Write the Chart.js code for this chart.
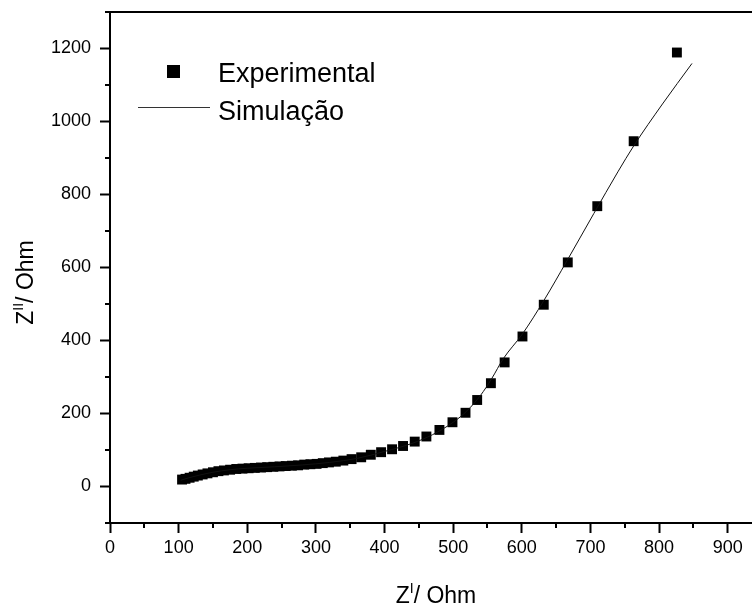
<!DOCTYPE html>
<html>
<head>
<meta charset="utf-8">
<script src="https://cdn.jsdelivr.net/npm/chart.js@4/dist/chart.umd.min.js"></script>
<style>
  html, body { margin: 0; padding: 0; background: #fff; overflow: hidden; }
  #wrap { width: 780px; height: 607px; }
</style>
</head>
<body>
<div id="wrap"><canvas id="c" width="780" height="607"></canvas></div>
<script>
// ---- data ----
const expX = [105,110,116,122,128,135,142,150,158,166,175,184,193,202,211,220,229,238,247,256,265,274,283,292,301,310,319,329,340,352,366,380,395,411,427,444,461,480,499,518,535,555,575,601,632,667,710,763,826];
const expY = [19,21,24,27,30,33,36,39,42,44,46,48,49,50,51,52,53,54,55,56,57,58,60,61,62,64,66,68,71,75,80,87,94,102,111,123,137,155,176,202,237,283,340,411,498,614,768,946,1189];
const simX = [103,115,130,150,175,200,240,280,320,360,400,440,470,500,520,540,556,573,601,632,666,705,740,763,805,848];
const simY = [17,24,31,39,46,50,54,59,66,77,96,118,142,176,207,250,295,350,418,509,619,748,862,933,1048,1159];
const xTickValues = [0,100,200,300,400,500,600,700,800,900];
const xMinorTicks = [50,150,250,350,450,550,650,750,850,950];
const yTickValues = [0,200,400,600,800,1000,1200];
const yMinorTicks = [-100,100,300,500,700,900,1100,1300];
const seriesLabels = ['Experimental', 'Simulação'];
const xTitle = {base: 'Z', sup: 'I', rest: '/ Ohm'};
const yTitle = {base: 'Z', sup: 'II', rest: '/ Ohm'};

const FONT = "'Liberation Sans', Arial, Helvetica, sans-serif";
Chart.defaults.font.family = FONT;
Chart.defaults.color = '#000';

function drawSupText(ctx, t, size) {
  ctx.font = size + 'px ' + FONT;
  const wb = ctx.measureText(t.base).width;
  const wr = ctx.measureText(t.rest).width;
  ctx.font = Math.round(size * 0.6) + 'px ' + FONT;
  const ws = ctx.measureText(t.sup).width;
  const total = wb + ws + wr;
  let x = -total / 2;
  ctx.textAlign = 'left';
  ctx.textBaseline = 'alphabetic';
  ctx.font = size + 'px ' + FONT;
  ctx.fillText(t.base, x, 0); x += wb;
  ctx.font = Math.round(size * 0.6) + 'px ' + FONT;
  ctx.fillText(t.sup, x, -size * 0.42); x += ws;
  ctx.font = size + 'px ' + FONT;
  ctx.fillText(t.rest, x, 0);
}

const decorPlugin = {
  id: 'decor',
  afterDraw(chart) {
    const ctx = chart.ctx;
    const a = chart.chartArea;
    const xs = chart.scales.x, ys = chart.scales.y;
    ctx.save();
    ctx.strokeStyle = '#000';
    ctx.fillStyle = '#000';
    ctx.lineWidth = 2;
    ctx.beginPath();
    ctx.moveTo(a.left, a.top); ctx.lineTo(a.right, a.top); ctx.lineTo(a.right, a.bottom);
    ctx.stroke();
    ctx.beginPath();
    xMinorTicks.forEach(v => {
      const p = Math.round(xs.getPixelForValue(v));
      ctx.moveTo(p, a.bottom); ctx.lineTo(p, a.bottom + 5);
    });
    yMinorTicks.forEach(v => {
      const p = Math.round(ys.getPixelForValue(v));
      ctx.moveTo(a.left - 5, p); ctx.lineTo(a.left, p);
    });
    ctx.stroke();
    ctx.save();
    ctx.translate((a.left + a.right) / 2, a.bottom + 80);
    drawSupText(ctx, xTitle, 23);
    ctx.restore();
    ctx.save();
    ctx.translate(33, (a.top + a.bottom) / 2 + 15);
    ctx.rotate(-Math.PI / 2);
    drawSupText(ctx, yTitle, 23);
    ctx.restore();
    const ds = chart.data.datasets;
    ctx.fillRect(a.left + 57, a.top + 53, 13, 13);
    ctx.lineWidth = 1;
    ctx.strokeStyle = '#333';
    ctx.beginPath();
    ctx.moveTo(a.left + 28, a.top + 95.5); ctx.lineTo(a.left + 100, a.top + 95.5);
    ctx.stroke();
    ctx.font = '27px ' + FONT;
    ctx.textAlign = 'left';
    ctx.textBaseline = 'alphabetic';
    ctx.fillText(ds[0].label, a.left + 108, a.top + 70);
    ctx.fillText(ds[1].label, a.left + 108, a.top + 108);
    ctx.restore();
  }
};

new Chart(document.getElementById('c'), {
  type: 'scatter',
  data: {
    datasets: [
      {
        label: seriesLabels[0],
        data: expX.map((x, i) => ({x: x, y: expY[i]})),
        pointStyle: 'rect',
        pointRadius: 7,
        pointBackgroundColor: '#000',
        pointBorderWidth: 0,
        showLine: false,
        order: 2
      },
      {
        label: seriesLabels[1],
        data: simX.map((x, i) => ({x: x, y: simY[i]})),
        showLine: true,
        borderColor: '#111',
        borderWidth: 1,
        pointRadius: 0,
        cubicInterpolationMode: 'monotone',
        order: 1
      }
    ]
  },
  options: {
    responsive: false,
    animation: false,
    devicePixelRatio: 1,
    layout: { padding: { top: 12, right: 18, left: 0, bottom: 0 } },
    plugins: { legend: { display: false }, tooltip: { enabled: false } },
    scales: {
      x: {
        type: 'linear',
        min: 0, max: 950,
        afterBuildTicks: s => { s.ticks = xTickValues.map(v => ({value: v})); },
        afterFit: s => { s.height = 84; s.paddingLeft = 0; s.paddingRight = 0; },
        grid: { drawOnChartArea: false, drawTicks: true, tickLength: 10, tickWidth: 2, tickColor: '#000' },
        border: { display: true, width: 2, color: '#000' },
        ticks: { autoSkip: false, maxRotation: 0, padding: 4, font: { size: 18 }, color: '#000', callback: v => String(v) }
      },
      y: {
        type: 'linear',
        min: -100, max: 1300,
        afterBuildTicks: s => { s.ticks = yTickValues.map(v => ({value: v})); },
        afterFit: s => { s.width = 110; s.paddingTop = 0; s.paddingBottom = 0; },
        grid: { drawOnChartArea: false, drawTicks: true, tickLength: 10, tickWidth: 2, tickColor: '#000' },
        border: { display: true, width: 2, color: '#000' },
        ticks: { autoSkip: false, padding: 9, font: { size: 18 }, color: '#000', callback: v => String(v) }
      }
    }
  },
  plugins: [decorPlugin]
});
</script>
</body>
</html>
